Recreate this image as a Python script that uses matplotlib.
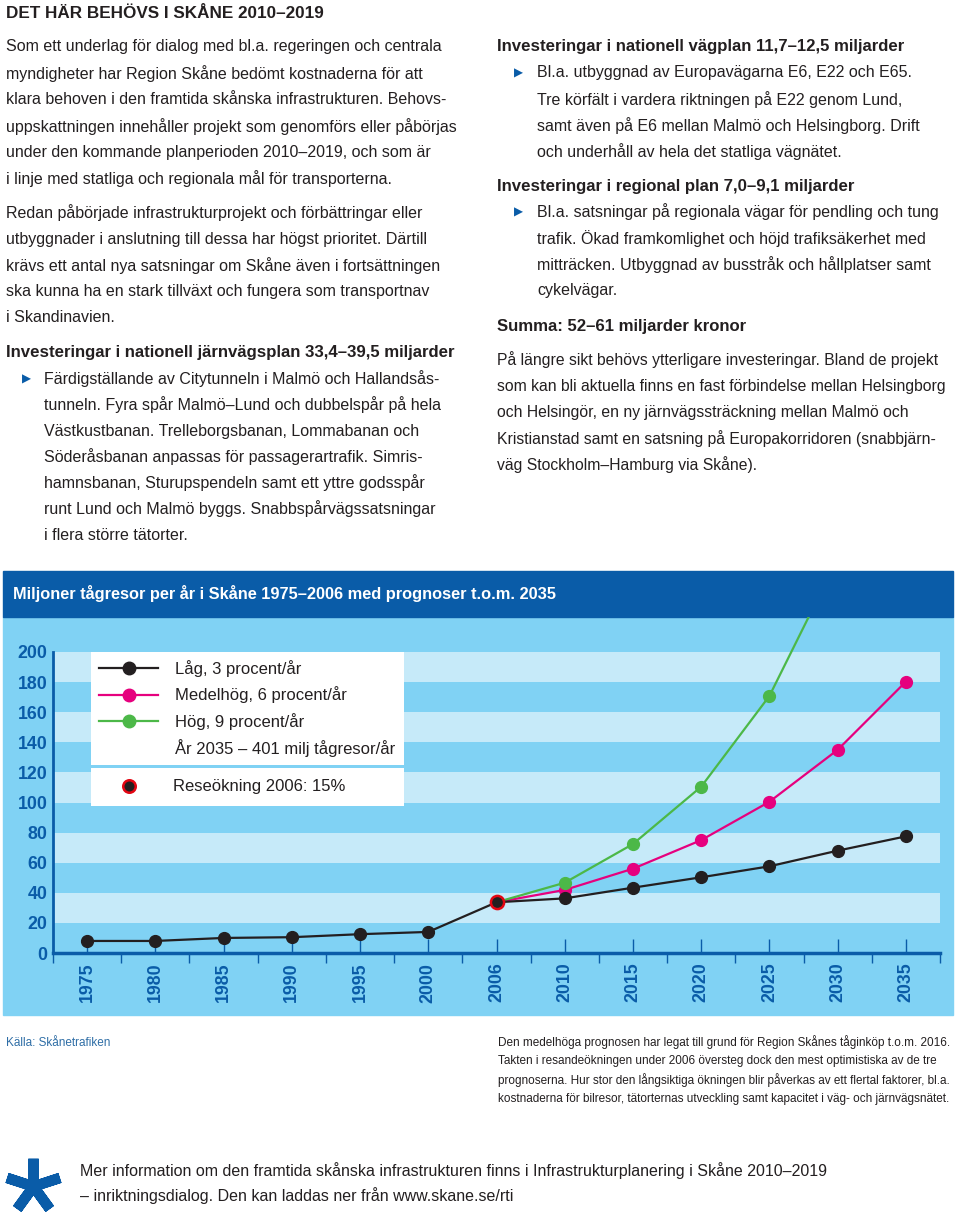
import numpy as np
import matplotlib
matplotlib.use('Agg')
import matplotlib.pyplot as plt
from matplotlib.patches import Rectangle
from matplotlib.lines import Line2D

plt.rcParams['font.family'] = ['Liberation Sans', 'DejaVu Sans']

# data
years = ['1975', '1980', '1985', '1990', '1995', '2000', '2006',
         '2010', '2015', '2020', '2025', '2030', '2035']
lag = [8, 8, 10, 10.5, 12.5, 14, 33.7, 36.3, 43.4, 50.3, 57.6, 68, 77.5]
medel = [33.7, 41.9, 56, 75, 100.5, 135, 180.3]
hog = [33.7, 46.7, 72.4, 110.5, 170.8, 262, 401]
okning_2006 = 33.7

W, H = 960, 1218
TXT = '#231f20'
BLUE = '#0a5ca8'
PANEL = '#80d2f4'
STRIPE = '#c6eaf9'
BODY = 11.5
HEAD = 12.1


def px(x, y):
    return x / W, 1 - y / H


fig = plt.figure(figsize=(9.6, 12.18), dpi=100)


def line_block(x, y0, pitch, lines, **kw):
    for i, s in enumerate(lines):
        fig.text(*px(x, y0 + i * pitch), s, va='center', ha='left',
                 color=kw.get('color', TXT), fontsize=kw.get('size', BODY),
                 fontweight=kw.get('weight', 'normal'))


def bullet(x, y):
    fig.text(*px(x, y), '\u25B6', va='center', ha='left', color=BLUE,
             fontsize=8.5, family='DejaVu Sans')


# --- left column
fig.text(*px(6, 13), 'DET HÄR BEHÖVS I SKÅNE 2010–2019', va='center',
         fontsize=12.3, fontweight='bold', color=TXT)
line_block(6, 47, 26.4, [
    'Som ett underlag för dialog med bl.a. regeringen och centrala',
    'myndigheter har Region Skåne bedömt kostnaderna för att',
    'klara behoven i den framtida skånska infrastrukturen. Behovs-',
    'uppskattningen innehåller projekt som genomförs eller påbörjas',
    'under den kommande planperioden 2010–2019, och som är',
    'i linje med statliga och regionala mål för transporterna.'])
line_block(6, 213, 26.2, [
    'Redan påbörjade infrastrukturprojekt och förbättringar eller',
    'utbyggnader i anslutning till dessa har högst prioritet. Därtill',
    'krävs ett antal nya satsningar om Skåne även i fortsättningen',
    'ska kunna ha en stark tillväxt och fungera som transportnav',
    'i Skandinavien.'])
line_block(6, 352, 26, ['Investeringar i nationell järnvägsplan 33,4–39,5 miljarder'],
           weight='bold', size=HEAD)
bullet(22, 379)
line_block(44, 379, 26, [
    'Färdigställande av Citytunneln i Malmö och Hallandsås-',
    'tunneln. Fyra spår Malmö–Lund och dubbelspår på hela',
    'Västkustbanan. Trelleborgsbanan, Lommabanan och',
    'Söderåsbanan anpassas för passagerartrafik. Simris-',
    'hamnsbanan, Sturupspendeln samt ett yttre godsspår',
    'runt Lund och Malmö byggs. Snabbspårvägssatsningar',
    'i flera större tätorter.'])

# --- right column
line_block(497, 47, 26, ['Investeringar i nationell vägplan 11,7–12,5 miljarder'],
           weight='bold', size=HEAD)
bullet(514, 73)
line_block(537, 73, 26.3, [
    'Bl.a. utbyggnad av Europavägarna E6, E22 och E65.',
    'Tre körfält i vardera riktningen på E22 genom Lund,',
    'samt även på E6 mellan Malmö och Helsingborg. Drift',
    'och underhåll av hela det statliga vägnätet.'])
line_block(497, 186, 26, ['Investeringar i regional plan 7,0–9,1 miljarder'],
           weight='bold', size=HEAD)
bullet(514, 212)
line_block(537, 212, 26.3, [
    'Bl.a. satsningar på regionala vägar för pendling och tung',
    'trafik. Ökad framkomlighet och höjd trafiksäkerhet med',
    'mitträcken. Utbyggnad av busstråk och hållplatser samt',
    'cykelvägar.'])
line_block(497, 326, 26, ['Summa: 52–61 miljarder kronor'], weight='bold', size=HEAD)
line_block(497, 360, 26.2, [
    'På längre sikt behövs ytterligare investeringar. Bland de projekt',
    'som kan bli aktuella finns en fast förbindelse mellan Helsingborg',
    'och Helsingör, en ny järnvägssträckning mellan Malmö och',
    'Kristianstad samt en satsning på Europakorridoren (snabbjärn-',
    'väg Stockholm–Hamburg via Skåne).'], size=11.35)

# --- chart background
fig.add_artist(Rectangle(px(3, 1015), 950 / W, (1015 - 617) / H,
                         transform=fig.transFigure, color=PANEL, zorder=-5))
fig.add_artist(Rectangle(px(3, 617), 950 / W, (617 - 571) / H,
                         transform=fig.transFigure, color=BLUE, zorder=-5))
fig.text(*px(13, 594), 'Miljoner tågresor per år i Skåne 1975–2006 med prognoser t.o.m. 2035',
         va='center', color='white', fontsize=11.8, fontweight='bold')

ax = fig.add_axes([53 / W, 1 - 953 / H, (940 - 53) / W, (953 - 617) / H])
ax.set_facecolor('none')
x = np.arange(len(years))
xf = x[6:]

for lo in range(20, 200, 40):
    ax.axhspan(lo, lo + 20, color=STRIPE, lw=0, zorder=0)

ax.plot(xf, medel, color='#e6007e', lw=1.6, marker='o', ms=8.5, zorder=3,
        label='Medelhög, 6 procent/år')
ax.plot(xf, hog, color='#4cb848', lw=1.6, marker='o', ms=8.5, zorder=4,
        label='Hög, 9 procent/år')
ax.plot(x, lag, color=TXT, lw=1.6, marker='o', ms=8.5, zorder=5,
        label='Låg, 3 procent/år')
ax.plot([x[6]], [okning_2006], ls='none', marker='o', ms=9.5, mfc=TXT,
        mec='#e30613', mew=1.8, zorder=6)

ax.set_xlim(-0.5, 12.5)
ax.set_ylim(0, 336 / 1.505)
ax.set_yticks(range(0, 201, 20))
ax.set_yticklabels([str(v) for v in range(0, 201, 20)], fontweight='bold')
ax.set_xticks(x)
ax.set_xticklabels(years, rotation=90, fontweight='bold')
ax.set_xticks(np.arange(-0.5, 13, 1), minor=True)
ax.tick_params(axis='y', length=0, pad=4, labelsize=12.8, labelcolor=BLUE)
ax.tick_params(axis='x', which='major', direction='in', length=10, width=1,
               color=BLUE, pad=7, labelsize=12.8, labelcolor=BLUE)
ax.tick_params(axis='x', which='minor', direction='out', length=7, width=1,
               color=BLUE)
for s in ['top', 'right']:
    ax.spines[s].set_visible(False)
ax.spines['left'].set_color(BLUE)
ax.spines['left'].set_linewidth(2)
ax.spines['left'].set_bounds(0, 200)
ax.spines['bottom'].set_color(BLUE)
ax.spines['bottom'].set_linewidth(2.5)

# legends
h_lag = Line2D([], [], color=TXT, lw=1.6, marker='o', ms=9)
h_med = Line2D([], [], color='#e6007e', lw=1.6, marker='o', ms=9)
h_hog = Line2D([], [], color='#4cb848', lw=1.6, marker='o', ms=9)
h_none = Line2D([], [], lw=0, alpha=0)
leg_kw = dict(loc='upper left', mode='expand', bbox_transform=fig.transFigure,
              borderaxespad=0, fontsize=12, fancybox=False, framealpha=1,
              edgecolor='none', facecolor='white',
              handletextpad=1.05, labelcolor=TXT)
leg1 = ax.legend([h_lag, h_med, h_hog, h_none],
                 ['Låg, 3 procent/år', 'Medelhög, 6 procent/år', 'Hög, 9 procent/år',
                  'År 2035 – 401 milj tågresor/år'],
                 bbox_to_anchor=(91 / W, 1 - 652 / H - 0.01, 313 / W, 0.01),
                 borderpad=0.5, labelspacing=0.55, handlelength=3.5, **leg_kw)
leg1.set_zorder(10)
ax.add_artist(leg1)
h_ok = Line2D([], [], ls='none', marker='o', ms=9, mfc=TXT, mec='#e30613', mew=1.8)
leg2 = ax.legend([h_ok], ['Reseökning 2006: 15%'],
                 bbox_to_anchor=(91 / W, 1 - 768 / H - 0.01, 313 / W, 0.01),
                 borderpad=0.68, handlelength=3.2, **leg_kw)
leg2.set_zorder(10)

# --- notes
fig.text(*px(6, 1043), 'Källa: Skånetrafiken', va='center', color='#2f6ea6',
         fontsize=8.5)
line_block(498, 1042, 19, [
    'Den medelhöga prognosen har legat till grund för Region Skånes tåginköp t.o.m. 2016.',
    'Takten i resandeökningen under 2006 översteg dock den mest optimistiska av de tre',
    'prognoserna. Hur stor den långsiktiga ökningen blir påverkas av ett flertal faktorer, bl.a.',
    'kostnaderna för bilresor, tätorternas utveckling samt kapacitet i väg- och järnvägsnätet.'],
           size=8.45)

fig.add_artist(Line2D([33 / W], [1 - 1186 / H], marker=(5, 2, 0), ms=40,
                      mew=7.5, color=BLUE, transform=fig.transFigure))
line_block(80, 1171, 25, [
    'Mer information om den framtida skånska infrastrukturen finns i Infrastrukturplanering i Skåne 2010–2019',
    '– inriktningsdialog. Den kan laddas ner från www.skane.se/rti'], size=11.5)

fig.savefig('out.png', dpi=100)
